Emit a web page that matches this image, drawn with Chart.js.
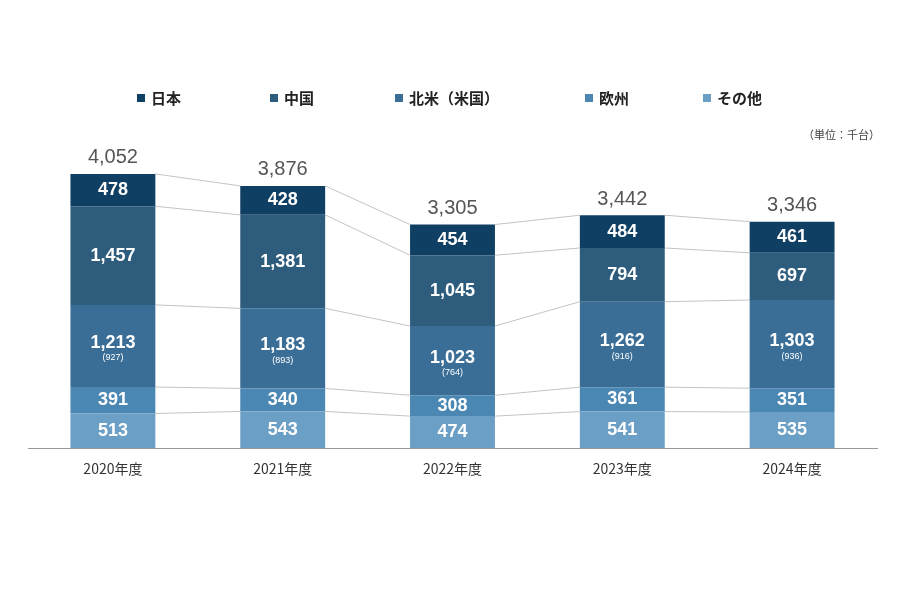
<!DOCTYPE html>
<html lang="ja">
<head>
<meta charset="UTF-8">
<title>販売台数</title>
<script src="https://cdn.jsdelivr.net/npm/chart.js"></script>
<style>
  body { margin: 0; background: #fff; }
  #wrap { width: 900px; height: 600px; }
</style>
</head>
<body>
<div id="wrap"><canvas id="c"></canvas></div>
<script>
  const years = ['2020年度', '2021年度', '2022年度', '2023年度', '2024年度'];
  const japan = [478, 428, 454, 484, 461];
  const china = [1457, 1381, 1045, 794, 697];
  const northAmerica = [1213, 1183, 1023, 1262, 1303];
  const usa = [927, 893, 764, 916, 936];
  const europe = [391, 340, 308, 361, 351];
  const others = [513, 543, 474, 541, 535];
  const totals = [4052, 3876, 3305, 3442, 3346];

  const font = '"Noto Sans CJK JP", "Noto Sans", sans-serif';
  const numFont = '"Liberation Sans", Arial, sans-serif';
  const fmt = v => v.toLocaleString('en-US');

  // stacking order bottom -> top
  const sets = [
    { label: 'その他', data: others, backgroundColor: '#6b9fc5' },
    { label: '欧州', data: europe, backgroundColor: '#4a87b3' },
    { label: '北米（米国）', data: northAmerica, backgroundColor: '#3a6e97' },
    { label: '中国', data: china, backgroundColor: '#2e5c7c' },
    { label: '日本', data: japan, backgroundColor: '#0f3f63' }
  ];
  const legendX = [137, 270, 395, 585, 703];

  const overlay = {
    id: 'overlay',
    beforeDatasetsDraw(chart) {
      const ctx = chart.ctx;
      ctx.save();
      ctx.strokeStyle = '#c4c4c4';
      ctx.lineWidth = 1;
      chart.data.datasets.forEach((ds, di) => {
        const meta = chart.getDatasetMeta(di);
        for (let i = 0; i < meta.data.length - 1; i++) {
          const a = meta.data[i], b = meta.data[i + 1];
          ctx.beginPath();
          ctx.moveTo(a.x + a.width / 2, a.y);
          ctx.lineTo(b.x - b.width / 2, b.y);
          ctx.stroke();
        }
      });
      ctx.restore();
    },
    afterDraw(chart) {
      const ctx = chart.ctx;
      ctx.save();
      ctx.textAlign = 'center';
      ctx.textBaseline = 'middle';
      chart.data.datasets.forEach((ds, di) => {
        const meta = chart.getDatasetMeta(di);
        meta.data.forEach((bar, i) => {
          const mid = (bar.y + bar.base) / 2;
          ctx.fillStyle = '#fff';
          ctx.font = 'bold 18px ' + numFont;
          if (ds.data === northAmerica) {
            ctx.fillText(fmt(ds.data[i]), bar.x, mid - 3);
            ctx.font = '9px ' + numFont;
            ctx.fillText('(' + usa[i] + ')', bar.x, mid + 12);
          } else {
            ctx.fillText(fmt(ds.data[i]), bar.x, mid);
          }
        });
      });
      const top = chart.getDatasetMeta(chart.data.datasets.length - 1);
      ctx.fillStyle = '#555';
      ctx.font = '20px ' + numFont;
      ctx.textBaseline = 'bottom';
      top.data.forEach((bar, i) => ctx.fillText(fmt(totals[i]), bar.x, bar.y - 6));

      // legend
      ctx.textAlign = 'left';
      ctx.textBaseline = 'middle';
      ctx.font = 'bold 15px ' + font;
      [...chart.data.datasets].reverse().forEach((ds, k) => {
        ctx.fillStyle = ds.backgroundColor;
        ctx.fillRect(legendX[k], 94, 8, 8);
        ctx.fillStyle = '#222';
        ctx.fillText(ds.label, legendX[k] + 14, 98);
      });
      // unit
      ctx.textAlign = 'right';
      ctx.font = '11px ' + font;
      ctx.fillStyle = '#444';
      ctx.fillText('（単位：千台）', 880, 135);
      ctx.restore();
    }
  };

  new Chart(document.getElementById('c'), {
    type: 'bar',
    data: { labels: years, datasets: sets },
    options: {
      responsive: true,
      maintainAspectRatio: false,
      animation: false,
      layout: { padding: { top: 140, left: 28, right: 23, bottom: 111 } },
      datasets: { bar: { categoryPercentage: 1, barPercentage: 0.5 } },
      scales: {
        x: {
          stacked: true,
          grid: { display: false, drawTicks: false },
          border: { color: '#999' },
          ticks: { color: '#333', font: { size: 14, family: font }, padding: 12 }
        },
        y: { stacked: true, display: false, min: 0, max: 4553 }
      },
      plugins: {
        tooltip: { enabled: false },
        legend: { display: false }
      }
    },
    plugins: [overlay]
  });
</script>
</body>
</html>
